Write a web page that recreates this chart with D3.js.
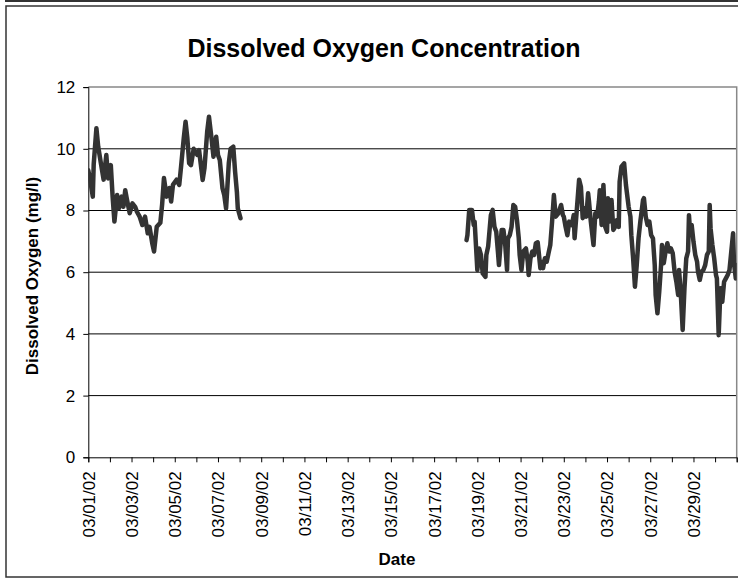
<!DOCTYPE html>
<html>
<head>
<meta charset="utf-8">
<script src="https://cdn.jsdelivr.net/npm/d3@7"></script>
<style>
  html, body { margin: 0; padding: 0; background: #fff; }
  svg { display: block; font-family: "Liberation Sans", Arial, sans-serif; }
</style>
</head>
<body>
<svg id="chart" width="738" height="579"></svg>
<script>
// ---- Data (hours since 03/01/02 00:00, dissolved oxygen mg/l) ----
const hours1 = [0,2,5,6,9,11,14,17,20,22,25,27,29,32,34,37,39,41,43,46,49,52,54,57,60,63,66,68,71,73,76,80,82,84,87,90,92,94,98,101,103,106,108,110,112,114,117,121,123,127,129,132,134,137,139,142,144,146,149,151,153,156,158,161,163,165,166,169];
const do1    = [9.3,9.0,8.45,9.5,10.67,10.07,9.53,9.0,9.8,9.04,9.47,8.45,7.64,8.5,8.07,8.45,8.12,8.66,8.34,7.91,8.23,8.12,7.96,7.8,7.53,7.8,7.26,7.47,6.94,6.67,7.47,7.6,8.2,9.05,8.45,8.73,8.29,8.83,9.0,8.83,9.42,10.34,10.88,10.34,9.53,9.47,10.0,9.8,9.96,8.99,9.37,10.55,11.04,10.29,9.74,10.39,9.8,9.64,8.72,8.5,8.07,9.53,10.0,10.07,9.26,8.6,8.07,7.75];

const hours2 = [420,421,423,426,428,429,432,434,436,438,441,442,444,447,449,451,453,455,456,459,461,463,465,466,468,470,472,474,476,478,479,481,483,486,488,489,491,493,495,497,499,502,503,505,507,509,511,513,515,517,519,522,525,527,528,530,532,534,537,539,540,542,545,547,549,551,553,555,556,558,561,563,565,567,568,570,572,574,576,577,579,581,583,585,587,589,590,592,595,597,600,602,603,605,607,609,611,613,616,617,619,621,623,625,627,629,630,632,634,636,637,639,641,643,645,647,649,651,653,655,656,658,660,662,664,666,667,668,670,672,674,676,677,679,681,683,685,687,689,690,691,693,695,697,698,700,702,704,706,708,710,712,714,716,717,719,721];
const do2    = [7.04,7.2,8.02,8.02,7.53,7.64,6.07,6.77,6.56,5.96,5.85,6.56,6.83,7.85,8.02,7.47,7.31,6.61,6.23,7.37,7.37,6.88,6.07,7.1,7.2,7.47,8.18,8.12,7.69,7.1,6.56,6.07,6.67,6.77,6.34,5.91,6.45,6.67,6.56,6.94,6.97,6.13,6.34,6.13,6.45,6.34,6.61,6.88,7.64,8.5,7.8,7.91,8.18,7.85,7.8,7.47,7.2,7.64,7.53,7.85,7.1,7.85,9.0,8.77,7.75,8.07,7.8,8.56,8.29,7.64,6.88,7.91,7.8,8.29,8.66,7.53,8.83,7.47,7.31,8.4,7.64,8.34,7.37,7.47,7.69,7.47,8.93,9.42,9.53,8.83,8.12,7.8,7.2,6.45,5.53,6.23,7.1,7.64,8.34,8.4,7.8,7.53,7.64,7.2,7.1,6.23,5.26,4.67,5.37,6.23,6.88,6.29,6.67,6.94,6.67,6.77,6.61,6.02,5.69,5.26,6.07,5.26,4.13,5.48,6.45,6.67,7.85,7.42,7.53,6.99,6.56,6.34,6.02,5.75,6.02,6.07,6.23,6.56,6.67,8.18,7.42,6.88,6.45,5.91,5.8,3.96,5.48,5.04,5.69,5.8,5.91,6.07,6.67,7.26,6.29,5.8,6.23];

const yTicks = [0, 2, 4, 6, 8, 10, 12];
const titleText = "Dissolved Oxygen Concentration";
const yLabelText = "Dissolved Oxygen (mg/l)";
const xLabelText = "Date";

// ---- Layout ----
const svg = d3.select("#chart");
const L = 88.3, R = 736.7, T = 87.1, B = 457.3;
const base = Date.UTC(2002, 2, 1);
const toDate = h => new Date(base + h * 3600e3);

const x = d3.scaleUtc().domain([toDate(0), toDate(720)]).range([L, R]);
const y = d3.scaleLinear().domain([0, 12]).range([B, T]);

// outer frame
svg.append("line").attr("x1", 5).attr("x2", 738).attr("y1", 1).attr("y2", 1)
  .attr("stroke", "#333").attr("stroke-width", 2);
svg.append("rect").attr("x", 6).attr("y", 6).attr("width", 760).attr("height", 571)
  .attr("fill", "none").attr("stroke", "#333").attr("stroke-width", 1.5);

// title
svg.append("text").attr("x", 384).attr("y", 57).attr("text-anchor", "middle")
  .attr("font-weight", "bold").attr("font-size", 25).text(titleText);

// gridlines
svg.append("g").selectAll("line").data(yTicks.filter(v => v > 0 && v < 12)).join("line")
  .attr("x1", L).attr("x2", R).attr("y1", d => y(d)).attr("y2", d => y(d))
  .attr("stroke", "#000").attr("stroke-width", 1);

// plot border top/right (gray)
svg.append("path").attr("d", `M${L},${y(12)}H${R}V${B}`)
  .attr("fill", "none").attr("stroke", "#888").attr("stroke-width", 1.5);

// y axis
const yAxis = svg.append("g").attr("transform", `translate(${L},0)`)
  .call(d3.axisLeft(y).tickValues(yTicks).tickSize(5).tickPadding(8).tickFormat(d3.format("d")));
yAxis.select(".domain").attr("stroke", "#000");
yAxis.selectAll(".tick line").attr("stroke", "#000");
yAxis.selectAll("text").attr("font-size", 17).attr("font-family", "Liberation Sans, Arial, sans-serif").attr("fill", "#000");

// x axis
const dayTicks = d3.utcDay.range(toDate(0), toDate(721));
const fmt = d3.utcFormat("%m/%d/%y");
const xAxis = svg.append("g").attr("transform", `translate(0,${B})`)
  .call(d3.axisBottom(x).tickValues(dayTicks).tickSize(5)
    .tickFormat((d, i) => (i % 2 === 0 && i < 30) ? fmt(d) : ""));
xAxis.select(".domain").attr("stroke", "#000");
xAxis.selectAll(".tick line").attr("stroke", "#000");
xAxis.selectAll("text")
  .attr("font-size", 17).attr("font-family", "Liberation Sans, Arial, sans-serif").attr("fill", "#000")
  .attr("text-anchor", "end")
  .attr("transform", "rotate(-90)")
  .attr("x", -14).attr("y", 0).attr("dy", "0.35em");

// axis titles
svg.append("text").attr("transform", `translate(38,${276}) rotate(-90)`)
  .attr("text-anchor", "middle").attr("font-weight", "bold").attr("font-size", 17).text(yLabelText);
svg.append("text").attr("x", 397).attr("y", 565).attr("text-anchor", "middle")
  .attr("font-weight", "bold").attr("font-size", 17).text(xLabelText);

// clip
svg.append("clipPath").attr("id", "clip").append("rect")
  .attr("x", L).attr("y", T - 10).attr("width", R - L).attr("height", B - T + 10);

const line = d3.line().x(d => x(toDate(d[0]))).y(d => y(d[1]));
const series = [d3.zip(hours1, do1), d3.zip(hours2, do2)];
svg.append("g").attr("clip-path", "url(#clip)").selectAll("path").data(series).join("path")
  .attr("d", line).attr("fill", "none").attr("stroke", "#333")
  .attr("stroke-width", 4.5).attr("stroke-linejoin", "round").attr("stroke-linecap", "round");
</script>
</body>
</html>
